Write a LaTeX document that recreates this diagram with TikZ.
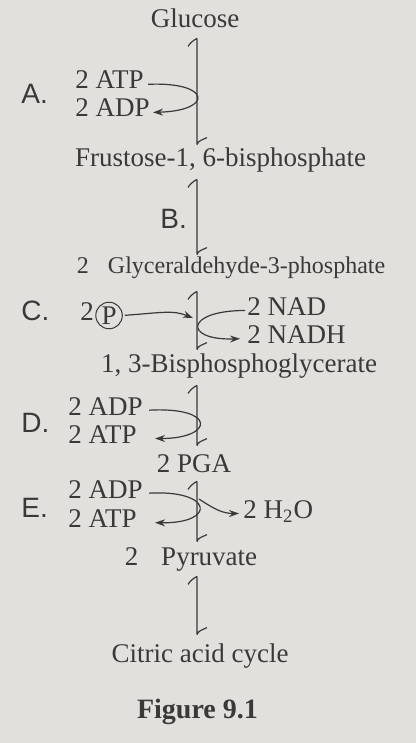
\documentclass[tikz,border=0pt]{standalone}
\usepackage{fontspec}
\setmainfont{Liberation Serif}
\newfontfamily\stepfont{Liberation Sans}
\usetikzlibrary{arrows.meta}
\definecolor{paper}{RGB}{225,224,221}
\definecolor{ink}{RGB}{60,56,56}

\begin{document}
\begin{tikzpicture}[%
 x=0.5pt,y=-0.5pt,
 every node/.style={
 	text=ink,
 	inner sep=0pt
 },
 chem/.style={
 	anchor=base,
 	font=\fontsize{13.5}{16}\selectfont,
 	text height=0.7em,
 	text depth=0.25em
 },
 chemsmall/.style={
 	chem,
 	font=\fontsize{12}{14}\selectfont
 },
 steplabel/.style={
 	anchor=base west,
 	font=\stepfont\fontsize{14}{16}\selectfont
 },
 revarr/.style={
 	draw=ink,
 	line width=0.6pt,
 	to path={(\tikztostart) -- (\tikztotarget)
 	 (\tikztostart) .. controls +(-4,2) and +(2,-3) .. ++(-9,8)
 	 (\tikztotarget) .. controls +(1,-4) and +(-4,2) .. ++(10,-7)}
 },
 sidearr/.style={
 	draw=ink,
 	line width=0.6pt,
 	-{Stealth[length=5pt,width=3.5pt]}
 }
 ]
 \fill[paper] (0,0) rectangle (416,743);
 \useasboundingbox (0,0) rectangle (416,743);
 \coordinate (spine) at (197,0);

 % compounds down the pathway
 \node[chem] (glucose) at (195,28) {Glucose};
 \node[chem] (fbp) at (220.5,167) {Frustose-1, 6-bisphosphate};
 \node[chemsmall] (gap) at (231,273) {2\hspace{0.8em}Glyceraldehyde-3-phosphate};
 \node[chem] (bpg) at (239,372) {1, 3-Bisphosphoglycerate};
 \node[chem] (pga) at (194,472) {2 PGA};
 \node[chem] (pyr) at (191,565) {2\hspace{0.85em}Pyruvate};
 \node[chem] (tca) at (200,662) {Citric acid cycle};
 \node[anchor=base,font=\bfseries\fontsize{14}{16}\selectfont] (fig) at (197.5,718) {Figure 9.1};

 % step labels
 \node[steplabel] (labA) at (21,104) {A.};
 \node[steplabel] (labB) at (160,228) {B.};
 \node[steplabel] (labC) at (21,320) {C.};
 \node[steplabel] (labD) at (21,432) {D.};
 \node[steplabel] (labE) at (21,517) {E.};

 % side compounds
 \node[chem,anchor=base west] (atpA) at (75,89) {2 ATP};
 \node[chem,anchor=base west] (adpA) at (75,117) {2 ADP};
 \node[chem,anchor=base west] (twoC) at (80,320) {2};
 \node[circle,draw=ink,line width=0.5pt,font=\fontsize{13.5}{16}\selectfont,
 	inner sep=0.6pt,anchor=west] (pC) at ([xshift=0.5pt]twoC.east) {P};
 \node[chem,anchor=base west] (nad) at (247,315) {2 NAD};
 \node[chem,anchor=base west] (nadh) at (247,343) {2 NADH};
 \node[chem,anchor=base west] (adpD) at (68,415) {2 ADP};
 \node[chem,anchor=base west] (atpD) at (68,443) {2 ATP};
 \node[chem,anchor=base west] (adpE) at (68,498) {2 ADP};
 \node[chem,anchor=base west] (atpE) at (68,527) {2 ATP};
 \node[chem,anchor=base west] (h2o) at (243,518) {2 H\textsubscript{2}O};

 % main reactions
 \path (glucose.south -| spine) ++(0,5) coordinate (r1t)
 	(fbp.north -| spine) ++(0,-8) coordinate (r1b);
 \path (fbp.south -| spine) ++(0,7) coordinate (r2t)
 	(gap.north -| spine) ++(0,-4) coordinate (r2b);
 \path (gap.south -| spine) ++(0,13) coordinate (r3t)
 	(bpg.north -| spine) ++(0,-8) coordinate (r3b);
 \path (bpg.south -| spine) ++(0,8) coordinate (r4t)
 	(pga.north -| spine) ++(0,-12) coordinate (r4b);
 \path (pga.south -| spine) ++(0,4) coordinate (r5t)
 	(pyr.north -| spine) ++(0,-9) coordinate (r5b);
 \path (pyr.south -| spine) ++(0,6) coordinate (r6t)
 	(tca.north -| spine) ++(0,-13) coordinate (r6b);
 \draw[revarr] (r1t) to (r1b);
 \draw[revarr] (r2t) to (r2b);
 \draw[revarr] (r3t) to (r3b);
 \draw[revarr] (r4t) to (r4b);
 \draw[revarr] (r5t) to (r5b);
 \draw[revarr] (r6t) to (r6b);

 % coupled reactions
 \coordinate (cjoin) at (193,318);
 \coordinate (ebranch) at (199,499);
 \draw[sidearr,shorten <=2pt,shorten >=1.5pt] (atpA.east) .. controls +(67,-3) and +(64,-2) .. (adpA.east);
 \draw[sidearr,shorten <=1pt] (pC.east) .. controls +(40,-3) and +(-20,-8) .. (cjoin);
 \draw[sidearr,shorten <=1pt,shorten >=3.5pt] (nad.west) .. controls +(-62,0) and +(-64,2) .. (nadh.west);
 \draw[sidearr,shorten <=3pt,shorten >=9pt] (adpD.east) .. controls +(74,-4) and +(77,0) .. (atpD.east);
 \draw[sidearr,shorten <=3pt,shorten >=9pt] (adpE.east) .. controls +(70,-4) and +(80,1) .. (atpE.east);
 \draw[sidearr,shorten >=2pt] (ebranch) .. controls +(15,10) and +(-20,0) .. (h2o.west);
\end{tikzpicture}
\end{document}
